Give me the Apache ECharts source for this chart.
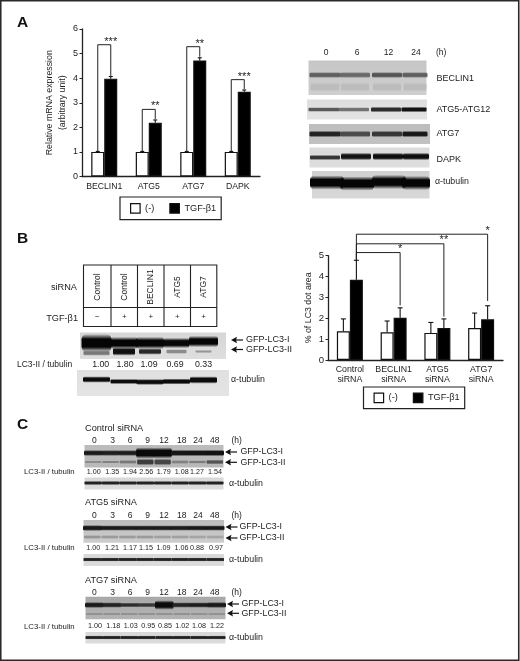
<!DOCTYPE html>
<html><head><meta charset="utf-8">
<style>html,body{margin:0;padding:0;background:#fff}#c{width:520px;height:661px;filter:blur(0.4px)}</style>
<script src="https://cdn.jsdelivr.net/npm/echarts@6/dist/echarts.min.js"></script>
</head><body><div id="c"></div>
<script>
const FONT = '"Liberation Sans", Arial, sans-serif';
// Panel A chart
const genesA = ['BECLIN1','ATG5','ATG7','DAPK'];
const ctrlA = [1,1,1,1];
const tgfA = [3.98,2.19,4.72,3.45];
const ctrlTopA = [1.02,1.02,1.02,1.02];
const tgfTopA = [4.07,2.3,4.83,3.52];
const bracketTopA = [5.36,2.73,5.28,3.94];
const bracketEndA = [4.1,2.34,4.87,3.56];
const starsA = ['***','**','**','***'];
// Panel B chart
const catsB = ['Control\nsiRNA','BECLIN1\nsiRNA','ATG5\nsiRNA','ATG7\nsiRNA'];
const ctrlB = [1.38,1.33,1.3,1.53];
const tgfB = [3.85,2.02,1.53,1.95];
const ctrlTopB = [1.97,1.87,1.8,2.25];
const tgfTopB = [4.78,2.5,1.97,2.6];
const bracketLevelB = [5.15,5.57,6.03];
const bracketEndB = [2.62,2.08,2.83];
const starsB = ['*','**','*'];
// Blot annotations
const timesA = ['0','6','12','24'];
const sirnaLanes = ['Control','Control','BECLIN1','ATG5','ATG7'];
const tgfSigns = ['\u2212','+','+','+','+'];
const ratiosB = ['1.00','1.80','1.09','0.69','0.33'];
const timesC = ['0','3','6','9','12','18','24','48'];
const ratiosC1 = ['1.00','1.35','1.94','2.56','1.79','1.08','1.27','1.54'];
const ratiosC2 = ['1.00','1.21','1.17','1.15','1.09','1.06','0.88','0.97'];
const ratiosC3 = ['1.00','1.18','1.03','0.95','0.85','1.02','1.08','1.22'];

const g = [];
const txt = (s,x,y,size,o={}) => g.push({type:'text',x,y,rotation:o.rot||0,z:20,style:{text:s,fontSize:size,fontFamily:o.font||FONT,fontWeight:o.w||'normal',fill:o.c||'#1c1c1c',align:o.a||'left',verticalAlign:'middle'}});
const line = (pts,c='#1a1a1a',lw=1.2,z=15) => g.push({type:'polyline',z,shape:{points:pts},style:{stroke:c,lineWidth:lw,fill:null}});
// a soft-edged blot band: fades out above and below its core
const band = (xc,yc,w,h,shade) => {const H=h*1.9,c=a=>`rgba(${shade},${shade},${shade},${a})`;
  g.push({type:'rect',z:7,shape:{x:xc-w/2,y:yc-H/2,width:w,height:H,r:H*0.3},style:{
    fill:{type:'linear',x:0,y:0,x2:0,y2:1,colorStops:[{offset:0,color:c(0)},{offset:0.28,color:c(1)},{offset:0.72,color:c(1)},{offset:1,color:c(0)}]}}});};
const panel = (x,y,w,h,top,bot) => g.push({type:'rect',z:4,shape:{x,y,width:w,height:h},style:{fill:{type:'linear',x:0,y:0,x2:0,y2:1,colorStops:[{offset:0,color:top},{offset:1,color:bot}]}}});
const arrow = (x,y,len=11) => {line([[x+2,y],[x+len,y]],'#111',1.2);g.push({type:'polygon',z:16,shape:{points:[[x-1,y],[x+5,y-3.2],[x+4,y],[x+5,y+3.2]]},style:{fill:'#111'}});};

// page frame
g.push({type:'rect',z:30,shape:{x:0.75,y:0.75,width:518,height:659.5},style:{fill:null,stroke:'#2a2a2a',lineWidth:1.6}});
txt('A',17,23,15.5,{w:'bold',c:'#111'});txt('B',17,238.5,15.5,{w:'bold',c:'#111'});txt('C',17,425,15.5,{w:'bold',c:'#111'});

// --- Panel A blots
const xA=[326,357,388.5,416];
timesA.forEach((t,i)=>txt(t,xA[i],52.5,8.5,{a:'center'}));txt('(h)',436,52.5,8.5);
const laneA=[[325,31],[355,30],[387,30],[415,25]];
panel(308.5,60.5,118,34.5,'#c6c6c6','#cfcfcf');
[95,105,85,95].forEach((s,i)=>{band(laneA[i][0],75,laneA[i][1],3.2,s);band(laneA[i][0],87,laneA[i][1]-2,5,188);});
panel(307,99.5,120,20,'#dedede','#e3e3e3');
[90,115,45,20].forEach((s,i)=>band(laneA[i][0]-1,109.5,laneA[i][1],i>1?3:2.5,s));
panel(309,124,121,20,'#bdbdbd','#c2c2c2');
[35,75,55,25].forEach((s,i)=>band(laneA[i][0],134,laneA[i][1],3.5,s));
panel(309.5,147.5,120,20,'#dcdcdc','#dedede');
[[325,30,2.8,55,157.5],[356,30,4,20,156.5],[388,30,4,15,156.5],[416,26,4,15,156.5]].forEach(b=>band(b[0],b[4],b[1],b[2],b[3]));
panel(312,171,117.5,27.5,'#d0d0d0','#d8d8d8');
band(327,182.5,34,7.5,5);band(357,183.5,34,7.5,5);band(389,182,34,7.5,5);band(416,183,28,7.5,5);
[['BECLIN1',79],['ATG5-ATG12',109.5],['ATG7',134],['DAPK',159.5]].forEach(l=>txt(l[0],436.5,l[1],9));
txt('\u03b1-tubulin',435,181.5,8.8);

// --- Panel B table
txt('siRNA',77,287,9.2,{a:'right'});txt('TGF-\u03b21',78,318,9.2,{a:'right'});
const tx=[83.5,111,137.5,164,190.5,216.8];
g.push({type:'rect',z:15,shape:{x:83.5,y:265,width:133.3,height:61.5},style:{fill:null,stroke:'#222',lineWidth:1.1}});
line([[83.5,307.5],[216.8,307.5]],'#222',1.1);
tx.slice(1,5).forEach(x=>line([[x,265],[x,326.5]],'#222',1.1));
sirnaLanes.forEach((s,i)=>{txt(s,(tx[i]+tx[i+1])/2,287,8.5,{a:'center',rot:Math.PI/2});txt(tgfSigns[i],(tx[i]+tx[i+1])/2,317,8,{a:'center'});});
// Panel B blots
const lB=[96.5,124,150,176.5,203.5];
panel(80,332.5,146,26.5,'#d6d6d6','#dedede');
[[30,9.5,5],[27,6.5,5],[28,6.5,5],[26,5.5,8],[29,6,5]].forEach((b,i)=>band(lB[i],i===4?341.5:343,b[0],b[1],b[2]));
[[26,3,120],[22,4.5,15],[22,3.5,40],[20,2.5,140],[16,1.5,150]].forEach((b,i)=>band(lB[i],i===0?353:351.5,b[0],b[1],b[2]));
ratiosB.forEach((r,i)=>txt(r,[100.7,125,149,175,203.5][i],365,8.8,{a:'center'}));
txt('LC3-II / tubulin',17,365,8.5);
panel(77,370,152,26,'#e0e0e0','#e4e4e4');
lB.forEach((x,i)=>band(x,[379.5,381.5,382,381.5,380][i],27,[3.5,2.8,3.2,3.2,4][i],12));
arrow(232,340);arrow(232,349.5);txt('GFP-LC3-I',246,340,9);txt('GFP-LC3-II',246,349.5,9);txt('\u03b1-tubulin',231,380,8.8);

// --- Panel C helper
function blotC(o){
  txt(o.title,85,o.yTitle,9.2);
  timesC.forEach((t,i)=>txt(t,o.xT[i],o.yTime,8.5,{a:'center'}));
  txt('(h)',o.xH,o.yTime,8.5);
  panel(o.x0,o.y0,o.x1-o.x0,o.y1-o.y0,o.c0,o.c1);
  const w=(o.x1-o.x0)/8;
  o.top.forEach((s,i)=>band(o.x0+w*(i+.5),o.yBand,w+1,o.hBand[i],s));
  o.low.forEach((s,i)=>band(o.x0+w*(i+.5),o.yLow,w-1,o.hLow[i],s));
  o.ratios.forEach((r,i)=>txt(r,o.xR[i],o.yR,7.2,{a:'center'}));
  txt('LC3-II / tubulin',24,o.yR,7.8);
  panel(o.x0,o.yT0,o.x1-o.x0,o.yT1-o.yT0,'#d8d8d8','#dcdcdc');
  for(let i=0;i<8;i++)band(o.x0+w*(i+.5),o.yTb,w,2.2,35);
  arrow(o.x1+2.5,o.yA1);arrow(o.x1+2.5,o.yA2);
  txt('GFP-LC3-I',o.xG,o.yA1,8.8);txt('GFP-LC3-II',o.xG,o.yA2,8.8);
  txt('\u03b1-tubulin',229,o.yTb+.5,8.8);
}
const xT=[94.3,112.7,130,147.7,164,181.7,198,214.7];
blotC({title:'Control siRNA',yTitle:428,yTime:440.5,xT,xH:231.5,x0:84.5,x1:223.5,y0:445,y1:467.5,c0:'#bcbcbc',c1:'#b8b8b8',
 yBand:453,hBand:[3.2,3.2,3.2,6,6,3.5,3.5,3.5],top:[25,30,30,10,10,22,20,18],yLow:462,hLow:[1.5,1.5,2,3.5,3.5,2,1.8,2.5],low:[140,130,120,60,70,130,125,85],
 ratios:ratiosC1,xR:[93.7,112.3,130,146.3,163.7,181.7,197,215],yR:472,yT0:477.5,yT1:489.5,yTb:483,yA1:452,yA2:462.3,xG:240.5});
blotC({title:'ATG5 siRNA',yTitle:502.5,yTime:515.3,xT,xH:231.5,x0:83.5,x1:224,y0:520,y1:542.7,c0:'#bcbcbc',c1:'#cdcdcd',
 yBand:528,hBand:[3.2,3,3,3,3,3,3,3],top:[25,25,28,28,28,28,25,25],yLow:537,hLow:[2,2,2,2,2,2,2,2],low:[150,155,155,155,160,160,165,165],
 ratios:ratiosC2,xR:[93.3,112,130,146,163.5,181.5,197,216],yR:547.8,yT0:554,yT1:566,yTb:559.5,yA1:527,yA2:538,xG:239.5});
blotC({title:'ATG7 siRNA',yTitle:580.7,yTime:592.3,xT,xH:231.5,x0:85.5,x1:225.5,y0:596.7,y1:619.3,c0:'#a8a8a8',c1:'#b4b4b4',
 yBand:605,hBand:[3.2,3,2.6,2.6,5,3,3,3.2],top:[25,35,45,55,10,35,30,25],yLow:614,hLow:[1,1,1,1,1,1,1,1],low:[140,140,140,140,140,140,140,140],
 ratios:ratiosC3,xR:[95,113.3,130.7,148.3,165,182.3,199,217],yR:626.5,yT0:632,yT1:643.5,yTb:637.5,yA1:604,yA2:613.3,xG:241.5});

// --- custom series helpers
const errItem = (dx,cap)=>(p,api)=>{const a=api.coord([api.value(0),api.value(1)]),b=api.coord([api.value(0),api.value(2)]);const x=a[0]+dx;
  return {type:'group',children:[
   {type:'line',shape:{x1:x,y1:a[1],x2:x,y2:b[1]},style:{stroke:'#111',lineWidth:1.1}},
   {type:'line',shape:{x1:x-cap,y1:b[1],x2:x+cap,y2:b[1]},style:{stroke:'#111',lineWidth:1.1}}]};};
const errSeries=(gi,dx,cap,base,top,name)=>({type:'custom',name,xAxisIndex:gi,yAxisIndex:gi,z:4,clip:false,silent:true,
  renderItem:errItem(dx,cap),encode:{x:0,y:[1,2]},data:base.map((v,i)=>[i,v,top[i]])});
const bar=(gi,name,vals,color)=>({type:'bar',name,xAxisIndex:gi,yAxisIndex:gi,data:vals,barWidth:13,barGap:0,z:3,silent:true,
  itemStyle:{color,borderColor:'#111',borderWidth:1.2}});
const axX=(gi,cats,fs,lh,m)=>({type:'category',gridIndex:gi,data:cats,axisLine:{lineStyle:{color:'#222',width:1.3}},
  axisTick:{alignWithLabel:false,inside:true,length:3,lineStyle:{color:'#222',width:1}},
  axisLabel:{color:'#1c1c1c',fontSize:fs,fontFamily:FONT,margin:m,lineHeight:lh,interval:0}});
const axY=(gi,max,name,gap,fs)=>({type:'value',gridIndex:gi,min:0,max,interval:1,name,nameLocation:'middle',nameGap:gap,nameRotate:90,
  nameTextStyle:{color:'#1c1c1c',fontSize:8.8,fontFamily:FONT,lineHeight:13},splitLine:{show:false},
  axisLine:{show:true,lineStyle:{color:'#222',width:1.3}},axisTick:{show:true,length:2.5,lineStyle:{color:'#222',width:1}},
  axisLabel:{color:'#1c1c1c',fontSize:fs,fontFamily:FONT,margin:4}});
const leg=(left,top,gap,pad)=>({left,top,orient:'horizontal',selectedMode:false,itemWidth:9.5,itemHeight:9.5,itemGap:gap,padding:pad,
  borderColor:'#222',borderWidth:1.2,data:[{name:'(-)',icon:'rect'},{name:'TGF-\u03b21',icon:'rect'}],
  itemStyle:{borderColor:'#111',borderWidth:1.2},textStyle:{color:'#1c1c1c',fontSize:9.2,fontFamily:FONT}});

const bracketsA={type:'custom',xAxisIndex:0,yAxisIndex:0,z:5,clip:false,silent:true,encode:{x:0,y:[1,2,3]},
  data:genesA.map((_,i)=>[i,ctrlA[i],bracketTopA[i],bracketEndA[i]]),
  renderItem:(p,api)=>{const i=api.value(0),a=api.coord([i,api.value(1)]),t=api.coord([i,api.value(2)]),e=api.coord([i,api.value(3)]);
    const xl=a[0]-6.5,xr=a[0]+6.5;
    return {type:'group',children:[
     {type:'polyline',shape:{points:[[xl,a[1]],[xl,t[1]],[xr,t[1]],[xr,e[1]]]},style:{stroke:'#222',lineWidth:1,fill:null}},
     {type:'text',x:xr,y:t[1]-3,style:{text:starsA[i],fontSize:11,fontFamily:FONT,fill:'#222',align:'center',verticalAlign:'middle'}}]};}};
const bracketsB={type:'custom',xAxisIndex:1,yAxisIndex:1,z:5,clip:false,silent:true,encode:{x:0,y:[1,2]},
  data:bracketLevelB.map((l,i)=>[i+1,l,bracketEndB[i]]),
  renderItem:(p,api)=>{const i=api.value(0),t=api.coord([i,api.value(1)]),e=api.coord([i,api.value(2)]),o=api.coord([0,tgfTopB[0]]);
    const x0=o[0]+6.5,xr=t[0]+6.5;
    return {type:'group',children:[
     {type:'polyline',shape:{points:[[x0,o[1]],[x0,t[1]],[xr,t[1]],[xr,e[1]]]},style:{stroke:'#222',lineWidth:1,fill:null}},
     {type:'text',x:xr,y:t[1]-3.5,style:{text:starsB[i-1],fontSize:11,fontFamily:FONT,fill:'#222',align:'center',verticalAlign:'middle'}}]};}};

const chart=echarts.init(document.getElementById('c'),null,{renderer:'canvas',width:520,height:661});
chart.setOption({animation:false,backgroundColor:'#fff',
  grid:[{left:82,top:29,width:178,height:147.5},{left:328,top:255.7,width:175,height:104.3}],
  xAxis:[axX(0,genesA,8.7,11,5),axX(1,catsB,8.8,10.5,4)],
  yAxis:[axY(0,6,'Relative mRNA expression\n(arbitrary unit)',13,9),axY(1,5,'% of LC3 dot area',12,9.6)],
  legend:[leg(120,197,15,[6,5,6,10]),leg(363.5,387,15,[5.5,5,5.5,10])],
  series:[bar(0,'(-)',ctrlA,'#fff'),bar(0,'TGF-\u03b21',tgfA,'#000'),
    errSeries(0,-6.5,2,ctrlA,ctrlTopA,'e1'),errSeries(0,6.5,2,tgfA,tgfTopA,'e2'),bracketsA,
    bar(1,'(-)',ctrlB,'#fff'),bar(1,'TGF-\u03b21',tgfB,'#000'),
    errSeries(1,-6.5,2.5,ctrlB,ctrlTopB,'e3'),errSeries(1,6.5,2.5,tgfB,tgfTopB,'e4'),bracketsB],
  graphic:{elements:g}});
</script></body></html>
